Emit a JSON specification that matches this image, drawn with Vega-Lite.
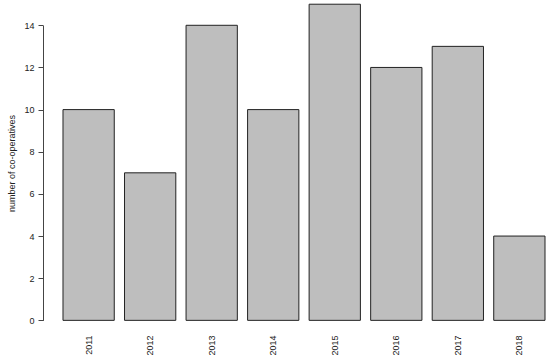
{
  "$schema": "https://vega.github.io/schema/vega-lite/v6.json",
  "autosize": "none",
  "width": 507,
  "height": 333,
  "padding": {"left": 43, "top": 0, "right": 0, "bottom": 24},
  "background": "white",
  "config": {
    "view": {"stroke": null},
    "font": "Liberation Sans",
    "axis": {"labelFont": "Liberation Sans", "titleFont": "Liberation Sans", "grid": false}
  },
  "data": {
    "values": [
      {"year": "2011", "count": 10},
      {"year": "2012", "count": 7},
      {"year": "2013", "count": 14},
      {"year": "2014", "count": 10},
      {"year": "2015", "count": 15},
      {"year": "2016", "count": 12},
      {"year": "2017", "count": 13},
      {"year": "2018", "count": 4}
    ]
  },
  "mark": {"type": "bar", "fill": "#bebebe", "stroke": "#222222", "strokeWidth": 1},
  "encoding": {
    "x": {
      "field": "year",
      "type": "ordinal",
      "scale": {"paddingInner": 0.1667, "paddingOuter": 0.203, "align": 0.8},
      "axis": {
        "title": null,
        "domain": false,
        "ticks": false,
        "labelAngle": -90,
        "labelAlign": "right",
        "labelBaseline": "middle",
        "labelPadding": 2,
        "labelFontSize": 9,
        "labelColor": "#222222"
      }
    },
    "y": {
      "field": "count",
      "type": "quantitative",
      "scale": {"domain": [-0.6, 15.2], "nice": false, "zero": false},
      "axis": {
        "title": "number of co-operatives",
        "titleFontSize": 9,
        "titleFontWeight": "normal",
        "titleColor": "#222222",
        "titleAngle": -90,
        "titleAlign": "center",
        "titleBaseline": "middle",
        "titleX": -32,
        "titleY": 163,
        "values": [0, 2, 4, 6, 8, 10, 12, 14],
        "labelFontSize": 9,
        "labelColor": "#222222",
        "labelAngle": 0,
        "labelPadding": 4,
        "tickSize": 5,
        "tickColor": "#444444",
        "domainColor": "#444444",
        "domainDash": [0, 12.65, 295.1, 40]
      }
    },
    "y2": {"datum": 0}
  }
}
